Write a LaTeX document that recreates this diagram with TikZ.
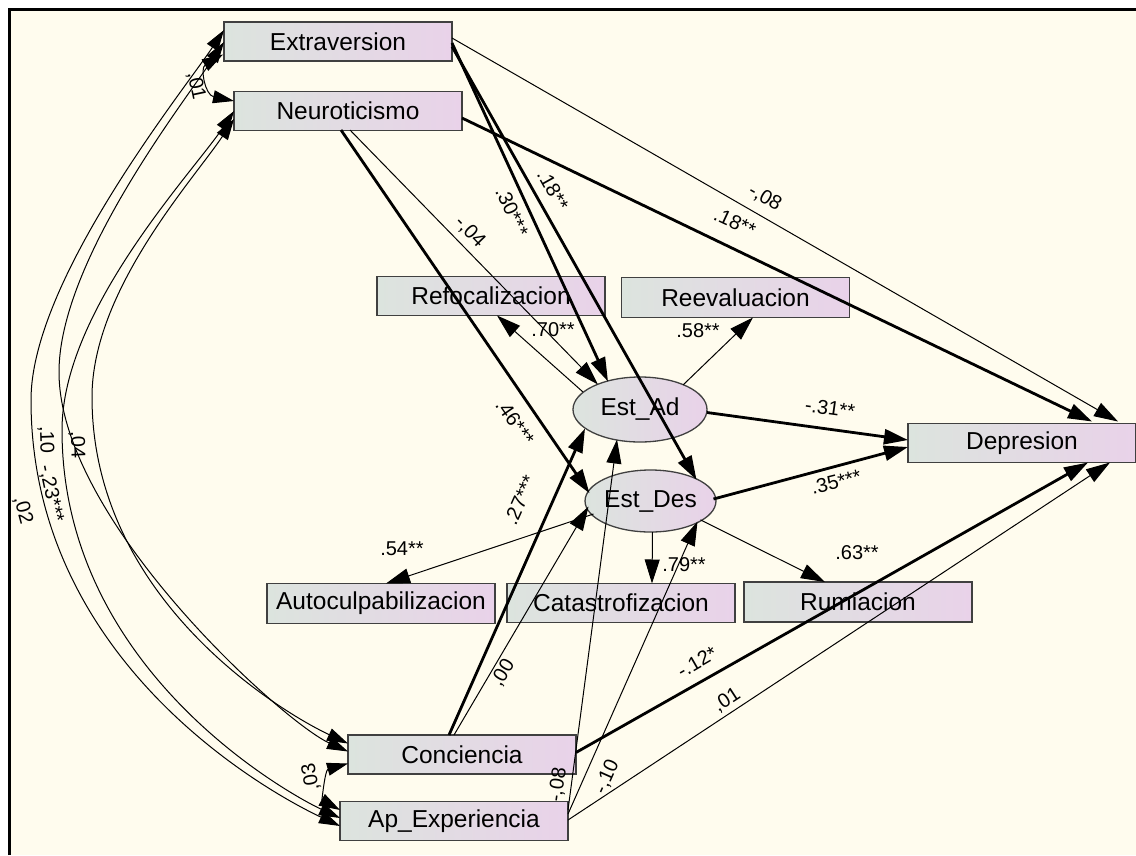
\documentclass[tikz,border=0pt]{standalone}
\usepackage{fontspec}
\setmainfont{Liberation Sans}
\usetikzlibrary{arrows.meta,calc,shapes.geometric}
\definecolor{bgc}{HTML}{FFFCEE}
\definecolor{boxl}{HTML}{DCE4DE}
\definecolor{boxr}{HTML}{E9D2E9}
\definecolor{bord}{HTML}{404040}
\begin{document}
\begin{tikzpicture}[x=1pt,y=-1pt,
  var/.style={draw=bord, line width=1.3pt, left color=boxl, right color=boxr,
    minimum width=228pt, minimum height=39pt, inner sep=0pt,
    font=\fontsize{24.5}{28}\selectfont},
  lat/.style={ellipse, draw=bord, line width=1.3pt, left color=boxl, right color=boxr,
    inner sep=0pt, font=\fontsize{24.5}{28}\selectfont},
  pthin/.style={line width=1pt, -{Triangle[length=24pt,width=15pt]}},
  pthick/.style={line width=2.8pt, -{Triangle[length=24pt,width=15pt]}},
  corr/.style={line width=1pt, {Triangle[length=21pt,width=13pt]}-{Triangle[length=21pt,width=13pt]}},
  lab/.style={font=\fontsize{20}{22}\selectfont, inner sep=0pt},
]
\useasboundingbox (0,0) rectangle (1136,855);
\fill[white] (0,0) rectangle (1136,855);
\fill[bgc] (11,11) rectangle (1136,855);
\draw[line width=3pt] (9.5,855) -- (9.5,9.5) -- (1136,9.5);

% nodes
\node[var] (ext) at (338,41.5) {Extraversion};
\node[var] (neu) at (348,111) {Neuroticismo};
\node[var] (refo) at (491,296) {Refocalizacion};
\node[var, minimum height=40pt] (reev) at (735.5,297.5) {Reevaluacion};
\node[lat, minimum width=134pt, minimum height=65pt] (estad) at (640,409.5) {Est\_Ad};
\node[lat, minimum width=127pt, minimum height=62pt] (estdes) at (650.5,501) {Est\_Des};
\node[var] (dep) at (1022,443) {Depresion};
\node[var, minimum height=40pt] (auto) at (381,603.5) {Autoculpabilizacion};
\node[var] (cat) at (621,603) {Catastrofizacion};
\node[var, minimum height=40pt] (rum) at (858,602) {Rumiacion};
\node[var] (conc) at (462,754.5) {Conciencia};
\node[var] (apexp) at (454,821) {Ap\_Experiencia};

% regression paths
\draw[pthin]  ($(ext)+(114,-3.5)$) -- ($(dep)+(96,-21.5)$);
\draw[pthick] ($(ext)+(114,1.5)$) -- ($(estad)+(-32,-28)$);
\draw[pthick] ($(ext)+(114,5)$) -- ($(estdes)+(46,-21.2)$);
\draw[pthick] ($(neu)+(114,7)$) -- ($(dep)+(70,-21.5)$);
\draw[pthin]  ($(neu)+(2,19)$) -- ($(estad)+(-42,-25)$);
\draw[pthick] ($(neu)+(-7,19)$) -- ($(estdes)+(-61,-7.75)$);
\draw[pthin]  ($(estad)+(-57,-17.5)$) -- ($(refo)+(6,19.5)$);
\draw[pthin]  ($(estad)+(43,-24.5)$) -- ($(reev)+(17.5,20)$);
\draw[pthick] ($(estad)+(67,3)$) -- ($(dep)+(-114,-3)$);
\draw[pthick] ($(estdes)+(63,-2)$) -- ($(dep)+(-114,4)$);
\draw[pthin]  ($(estdes)+(-57,13)$) -- ($(auto)+(5,-20)$);
\draw[pthin]  ($(estdes)+(2,31)$) -- ($(cat)+(31,-19.5)$);
\draw[pthin]  ($(estdes)+(50,18.9)$) -- ($(rum)+(-33,-20)$);
\draw[pthick] ($(conc)+(-13,-19.5)$) -- ($(estad)+(-55,19)$);
\draw[pthin]  ($(conc)+(-8,-19.5)$) -- ($(estdes)+(-62,5.5)$);
\draw[pthick] ($(conc)+(114,-2)$) -- ($(dep)+(66,19.5)$);
\draw[pthin]  ($(apexp)+(114,-11)$) -- ($(estad)+(-23,30)$);
\draw[pthin]  ($(apexp)+(114,-7)$) -- ($(estdes)+(47,20.6)$);
\draw[pthin]  ($(apexp)+(114,-1)$) -- ($(dep)+(88,19.5)$);

% correlations
\draw[corr] ($(ext)+(-115,13)$) .. controls (200,68) and (205,95) .. ($(neu)+(-114,-10)$);
\draw[corr] ($(conc)+(-114,9)$) .. controls (325,770) and (322,800) .. ($(apexp)+(-114,-11)$);
% Extraversion - Ap_Experiencia
\draw[corr] ($(ext)+(-114,-11.5)$) .. controls (184,90) and (31,280) .. (31,400)
  .. controls (31,668) and (280,798) .. ($(apexp)+(-114,5)$);
% Extraversion - Conciencia
\draw[corr] ($(ext)+(-114,0.5)$) .. controls (184,102) and (59,262) .. (59,372)
  .. controls (59,520) and (283,722) .. ($(conc)+(-114,-3)$);
% Neuroticismo - Ap_Experiencia
\draw[corr] ($(neu)+(-114,0)$) .. controls (194,171) and (62,310) .. (62,430)
  .. controls (62,673) and (295,797) .. ($(apexp)+(-114,-3)$);
% Neuroticismo - Conciencia
\draw[corr] ($(neu)+(-114,8)$) .. controls (194,179) and (92,290) .. (92,397)
  .. controls (92,600) and (283,713) .. ($(conc)+(-114,-11)$);

% labels
\node[lab, rotate=-30] (l1) at (765,198) {-,08};
\node[lab, rotate=-65] (l2) at (512,212) {.30***};
\node[lab, rotate=-61] (l3) at (553,190) {.18**};
\node[lab, rotate=-25] (l4) at (735,222) {.18**};
\node[lab, rotate=-46] (l5) at (470,232) {-,04};
\node[lab, rotate=-55] (l6) at (515,422) {.46***};
\node[lab] (l7) at (553,330) {.70**};
\node[lab] (l8) at (698,331) {.58**};
\node[lab, rotate=-8] (l9) at (830,408) {-.31**};
\node[lab, rotate=14] (l10) at (836,482) {.35***};
\node[lab] (l11) at (402,549) {.54**};
\node[lab] (l12) at (684,565) {.79**};
\node[lab] (l13) at (857,553) {.63**};
\node[lab, rotate=66] (l14) at (520,500) {.27***};
\node[lab, rotate=59] (l15) at (503,673) {,00};
\node[lab, rotate=30] (l16) at (697,662) {-.12*};
\node[lab, rotate=82] (l17) at (558,785) {-,08};
\node[lab, rotate=66] (l18) at (607,777) {-,10};
\node[lab, rotate=33] (l19) at (727,700) {,01};
\node[lab, rotate=-78] (c1) at (196,86) {,01};
\node[lab, rotate=-75] (c2) at (23,510) {,02};
\node[lab, rotate=-88] (c3) at (46,440) {,10};
\node[lab, rotate=-88] (c4) at (77,445) {,04};
\node[lab, rotate=-78] (c5) at (51,494) {-,23***};
\node[lab, rotate=100] (c6) at (311,777) {,03};
\end{tikzpicture}
\end{document}
